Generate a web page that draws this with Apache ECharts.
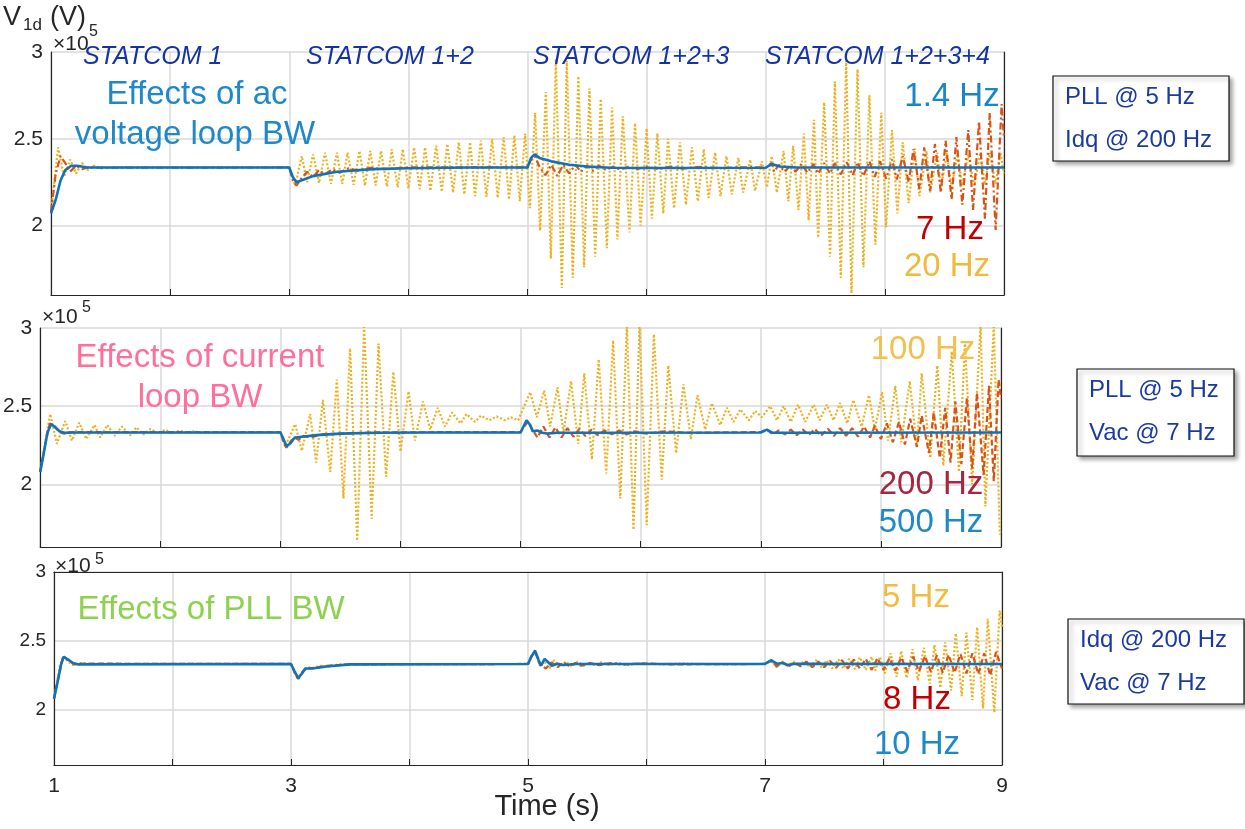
<!DOCTYPE html>
<html>
<head>
<meta charset="utf-8">
<title>V1d - effects of control bandwidths</title>
<script src="https://cdn.jsdelivr.net/npm/echarts@6/dist/echarts.min.js"></script>
<style>
  html, body { margin: 0; padding: 0; background: #fff; }
  #chart { width: 1245px; height: 829px; }
</style>
</head>
<body>
<div id="chart"></div>
<script>
// axes: time in s, V1d in units of 1e5 V
const timeMin = 1;
const timeMax = 9;
const timeLabels = [1, 3, 5, 7, 9];
const vMin = 1.6;
const vMax = 3;
const vLabels = [2, 2.5, 3];
const stageLabels = ["STATCOM 1", "STATCOM 1+2", "STATCOM 1+2+3", "STATCOM 1+2+3+4"];

// panel 1: ac voltage loop bandwidth
const acBlue14Hz = [[1.00,2.07],[1.04,2.15],[1.08,2.26],[1.12,2.32],[1.17,2.345],[1.22,2.345],[1.30,2.335],[3.00,2.335],[3.03,2.28],[3.06,2.25],[3.10,2.26],[3.20,2.285],[3.40,2.31],[3.70,2.325],[4.00,2.33],[4.50,2.335],[5.00,2.335],[5.03,2.39],[5.06,2.41],[5.10,2.39],[5.20,2.37],[5.35,2.35],[5.50,2.34],[5.70,2.333],[6.00,2.332],[7.00,2.333],[7.05,2.355],[7.12,2.34],[7.25,2.335],[9.00,2.335]];
const acRed7Hz = [[1.00,2.08],[1.04,2.30],[1.08,2.40],[1.12,2.36],[1.16,2.31],[1.21,2.345],[1.26,2.325],[1.32,2.338],[1.40,2.333],[3.00,2.335],[3.03,2.26],[3.06,2.23],[3.10,2.27],[3.15,2.31],[3.20,2.28],[3.25,2.32],[3.30,2.295],[3.36,2.325],[3.42,2.305],[3.50,2.33],[3.58,2.315],[3.68,2.333],[3.80,2.325],[4.00,2.335],[5.00,2.335],[5.03,2.38],[5.06,2.40],[5.10,2.34],[5.15,2.29],[5.20,2.35],[5.25,2.285],[5.30,2.35],[5.35,2.30],[5.40,2.35],[5.45,2.31],[5.50,2.345],[5.55,2.315],[5.60,2.345],[5.66,2.32],[5.72,2.34],[5.78,2.322],[5.85,2.34],[5.92,2.325],[6.00,2.34],[6.10,2.325],[6.20,2.34],[6.30,2.328],[6.45,2.338],[6.60,2.33],[6.80,2.336],[7.00,2.335],[7.05,2.36],[7.07,2.31],[7.11,2.35],[7.16,2.31],[7.21,2.35],[7.25,2.31],[7.30,2.355],[7.35,2.305],[7.40,2.355],[7.44,2.30],[7.49,2.36],[7.54,2.30],[7.58,2.36],[7.63,2.295],[7.68,2.365],[7.73,2.29],[7.77,2.365],[7.82,2.285],[7.87,2.37],[7.915,2.28],[7.96,2.37],[8.01,2.27],[8.06,2.38],[8.10,2.265],[8.15,2.40],[8.20,2.25],[8.24,2.44],[8.29,2.21],[8.33,2.45],[8.38,2.20],[8.42,2.47],[8.47,2.19],[8.51,2.49],[8.56,2.15],[8.60,2.51],[8.65,2.12],[8.70,2.55],[8.74,2.09],[8.79,2.60],[8.84,2.04],[8.88,2.65],[8.93,1.975],[8.98,2.70],[9.00,2.50]];
const acYellow20Hz = [[1.00,2.08],[1.06,2.45],[1.11,2.28],[1.16,2.38],[1.21,2.30],[1.26,2.36],[1.31,2.32],[1.36,2.345],[1.42,2.33],[1.50,2.335],[3.00,2.335],[3.05,2.23],[3.105,2.40],[3.15,2.25],[3.20,2.41],[3.25,2.245],[3.30,2.42],[3.35,2.24],[3.40,2.42],[3.445,2.24],[3.49,2.42],[3.54,2.235],[3.59,2.43],[3.635,2.23],[3.68,2.43],[3.725,2.23],[3.77,2.43],[3.82,2.225],[3.86,2.44],[3.91,2.22],[3.953,2.44],[4.00,2.215],[4.048,2.45],[4.095,2.21],[4.14,2.45],[4.185,2.20],[4.233,2.46],[4.28,2.195],[4.327,2.47],[4.375,2.19],[4.423,2.48],[4.47,2.18],[4.518,2.48],[4.56,2.17],[4.608,2.49],[4.655,2.165],[4.703,2.50],[4.75,2.16],[4.80,2.51],[4.845,2.15],[4.89,2.52],[4.935,2.14],[4.98,2.53],[5.02,2.10],[5.064,2.65],[5.106,1.97],[5.154,2.77],[5.196,1.81],[5.238,2.96],[5.288,1.64],[5.33,2.95],[5.38,1.70],[5.427,2.86],[5.475,1.76],[5.52,2.79],[5.568,1.82],[5.615,2.73],[5.666,1.87],[5.71,2.68],[5.755,1.92],[5.80,2.63],[5.856,1.96],[5.903,2.59],[5.95,2.00],[6.00,2.56],[6.044,2.04],[6.09,2.53],[6.14,2.07],[6.18,2.50],[6.23,2.10],[6.28,2.48],[6.33,2.12],[6.38,2.45],[6.43,2.14],[6.48,2.44],[6.52,2.16],[6.575,2.42],[6.62,2.17],[6.67,2.40],[6.715,2.18],[6.77,2.39],[6.81,2.19],[6.87,2.38],[6.91,2.20],[6.967,2.37],[7.01,2.22],[7.05,2.40],[7.093,2.19],[7.15,2.43],[7.19,2.14],[7.23,2.46],[7.275,2.09],[7.32,2.53],[7.36,2.03],[7.405,2.61],[7.44,1.93],[7.49,2.71],[7.54,1.82],[7.58,2.83],[7.63,1.70],[7.675,2.95],[7.72,1.61],[7.77,2.90],[7.82,1.76],[7.87,2.75],[7.92,1.89],[7.97,2.65],[8.01,1.99],[8.06,2.55],[8.105,2.07],[8.15,2.48],[8.20,2.13],[8.25,2.445],[8.29,2.17],[8.35,2.43],[8.38,2.19],[8.44,2.42],[8.47,2.21],[8.52,2.42],[8.56,2.22],[8.61,2.41],[8.65,2.23],[8.70,2.41],[8.75,2.23],[8.80,2.42],[8.84,2.235],[8.88,2.42],[8.93,2.24],[8.97,2.42],[9.00,2.30]];

// panel 2: current loop bandwidth
const curYellow100Hz = [[1.00,2.08],[1.083,2.45],[1.139,2.26],[1.208,2.405],[1.264,2.28],[1.325,2.395],[1.383,2.29],[1.452,2.38],[1.50,2.30],[1.56,2.38],[1.62,2.31],[1.68,2.37],[1.75,2.315],[1.80,2.365],[1.86,2.32],[1.92,2.355],[1.98,2.325],[2.04,2.35],[2.10,2.325],[2.16,2.345],[2.22,2.33],[2.28,2.34],[2.35,2.33],[2.50,2.335],[3.00,2.335],[3.04,2.245],[3.123,2.385],[3.178,2.215],[3.248,2.45],[3.298,2.14],[3.354,2.54],[3.415,2.08],[3.47,2.67],[3.525,1.91],[3.58,2.87],[3.64,1.64],[3.697,3.02],[3.76,1.78],[3.817,2.90],[3.88,2.05],[3.94,2.72],[4.00,2.21],[4.067,2.595],[4.12,2.28],[4.187,2.53],[4.247,2.35],[4.31,2.49],[4.37,2.37],[4.43,2.46],[4.50,2.39],[4.55,2.45],[4.62,2.40],[4.67,2.44],[4.74,2.41],[4.80,2.435],[4.87,2.41],[4.92,2.43],[4.98,2.41],[5.08,2.59],[5.136,2.43],[5.196,2.60],[5.246,2.37],[5.307,2.62],[5.357,2.33],[5.42,2.66],[5.48,2.26],[5.53,2.71],[5.594,2.16],[5.65,2.80],[5.713,2.07],[5.77,2.92],[5.83,1.91],[5.885,3.02],[5.94,1.71],[5.99,3.02],[6.05,1.74],[6.11,2.96],[6.175,2.03],[6.23,2.76],[6.295,2.20],[6.356,2.64],[6.418,2.29],[6.473,2.57],[6.537,2.35],[6.593,2.52],[6.662,2.38],[6.718,2.49],[6.773,2.40],[6.83,2.48],[6.90,2.41],[6.953,2.47],[7.009,2.43],[7.078,2.50],[7.134,2.41],[7.19,2.50],[7.25,2.40],[7.31,2.51],[7.37,2.40],[7.44,2.51],[7.49,2.41],[7.55,2.51],[7.605,2.41],[7.66,2.52],[7.72,2.39],[7.77,2.54],[7.84,2.37],[7.90,2.57],[7.95,2.35],[8.01,2.59],[8.06,2.28],[8.12,2.63],[8.17,2.27],[8.24,2.66],[8.30,2.24],[8.34,2.71],[8.41,2.17],[8.47,2.76],[8.52,2.12],[8.59,2.85],[8.65,2.08],[8.70,2.90],[8.76,2.00],[8.83,3.02],[8.87,1.86],[8.94,3.02],[8.99,1.68],[9.00,1.70]];
const curRed200Hz = [[1.00,2.08],[1.04,2.25],[1.08,2.39],[1.12,2.37],[1.16,2.335],[1.20,2.325],[1.26,2.335],[3.00,2.335],[3.03,2.26],[3.05,2.235],[3.09,2.28],[3.12,2.30],[3.15,2.285],[3.19,2.31],[3.25,2.30],[3.35,2.32],[3.50,2.325],[3.80,2.333],[5.00,2.335],[5.04,2.38],[5.06,2.40],[5.10,2.35],[5.14,2.30],[5.19,2.37],[5.24,2.30],[5.29,2.365],[5.34,2.30],[5.39,2.36],[5.44,2.305],[5.49,2.355],[5.54,2.31],[5.59,2.35],[5.64,2.315],[5.70,2.345],[5.76,2.32],[5.82,2.345],[5.88,2.32],[5.95,2.34],[6.05,2.325],[6.20,2.34],[6.40,2.33],[7.00,2.335],[7.05,2.35],[7.10,2.32],[7.15,2.345],[7.20,2.32],[7.25,2.35],[7.30,2.315],[7.35,2.35],[7.40,2.315],[7.45,2.355],[7.50,2.31],[7.56,2.355],[7.61,2.31],[7.66,2.36],[7.71,2.31],[7.76,2.36],[7.81,2.305],[7.86,2.37],[7.91,2.30],[7.95,2.375],[8.00,2.29],[8.05,2.39],[8.10,2.27],[8.15,2.40],[8.20,2.255],[8.244,2.42],[8.30,2.24],[8.34,2.44],[8.40,2.20],[8.44,2.46],[8.49,2.17],[8.535,2.49],[8.58,2.14],[8.62,2.53],[8.67,2.13],[8.716,2.55],[8.76,2.10],[8.80,2.585],[8.855,2.06],[8.90,2.63],[8.94,2.02],[8.98,2.67],[9.00,2.55]];
const curBlue500Hz = [[1.00,2.08],[1.03,2.20],[1.06,2.33],[1.09,2.385],[1.12,2.37],[1.16,2.34],[1.20,2.33],[1.30,2.332],[3.00,2.332],[3.02,2.30],[3.05,2.245],[3.08,2.26],[3.12,2.30],[3.18,2.305],[3.30,2.315],[3.50,2.325],[3.80,2.33],[4.20,2.332],[5.00,2.332],[5.03,2.38],[5.05,2.41],[5.08,2.38],[5.10,2.34],[5.14,2.345],[5.18,2.33],[5.22,2.325],[5.30,2.33],[7.00,2.332],[7.05,2.35],[7.10,2.33],[9.00,2.332]];

// panel 3: PLL bandwidth
const pllYellow5Hz = [[1.00,2.08],[1.05,2.32],[1.08,2.39],[1.12,2.35],[1.16,2.325],[1.22,2.34],[1.30,2.333],[3.00,2.333],[3.03,2.27],[3.06,2.225],[3.10,2.28],[3.14,2.31],[3.18,2.30],[3.24,2.32],[3.32,2.315],[3.40,2.33],[5.00,2.333],[5.03,2.39],[5.06,2.42],[5.10,2.32],[5.14,2.35],[5.18,2.30],[5.22,2.36],[5.27,2.31],[5.32,2.35],[5.37,2.315],[5.42,2.35],[5.47,2.32],[5.52,2.345],[5.57,2.32],[5.62,2.345],[5.68,2.325],[5.75,2.34],[5.85,2.325],[5.95,2.34],[6.10,2.33],[6.30,2.337],[6.60,2.33],[7.00,2.333],[7.05,2.355],[7.10,2.31],[7.15,2.35],[7.19,2.315],[7.24,2.35],[7.29,2.315],[7.33,2.355],[7.38,2.31],[7.43,2.36],[7.48,2.305],[7.52,2.36],[7.57,2.30],[7.62,2.365],[7.66,2.30],[7.71,2.37],[7.76,2.295],[7.80,2.38],[7.85,2.29],[7.90,2.385],[7.93,2.285],[7.97,2.385],[8.01,2.265],[8.06,2.41],[8.11,2.24],[8.15,2.427],[8.195,2.23],[8.245,2.44],[8.29,2.217],[8.34,2.45],[8.39,2.19],[8.43,2.47],[8.48,2.16],[8.52,2.49],[8.57,2.14],[8.61,2.555],[8.66,2.10],[8.70,2.56],[8.75,2.07],[8.79,2.60],[8.84,2.01],[8.88,2.66],[8.935,1.98],[8.98,2.72],[9.00,2.60]];
const pllRed8Hz = [[1.00,2.08],[1.04,2.25],[1.08,2.39],[1.12,2.36],[1.17,2.33],[1.25,2.335],[3.00,2.333],[3.03,2.27],[3.06,2.225],[3.10,2.28],[3.14,2.30],[3.20,2.305],[3.30,2.32],[3.50,2.33],[5.00,2.333],[5.03,2.39],[5.06,2.42],[5.10,2.33],[5.15,2.30],[5.20,2.345],[5.25,2.31],[5.30,2.345],[5.35,2.315],[5.40,2.34],[5.45,2.32],[5.52,2.34],[5.60,2.325],[5.70,2.34],[5.80,2.328],[5.95,2.337],[6.20,2.33],[7.00,2.333],[7.05,2.355],[7.10,2.315],[7.15,2.345],[7.20,2.315],[7.25,2.345],[7.30,2.315],[7.35,2.35],[7.40,2.31],[7.45,2.35],[7.50,2.31],[7.55,2.355],[7.60,2.305],[7.65,2.36],[7.70,2.30],[7.75,2.365],[7.80,2.30],[7.85,2.37],[7.90,2.29],[7.95,2.375],[8.00,2.29],[8.05,2.375],[8.10,2.285],[8.15,2.38],[8.20,2.28],[8.25,2.385],[8.30,2.28],[8.35,2.39],[8.40,2.275],[8.45,2.395],[8.50,2.27],[8.55,2.40],[8.60,2.27],[8.65,2.405],[8.70,2.265],[8.75,2.41],[8.80,2.26],[8.85,2.41],[8.90,2.25],[8.95,2.42],[9.00,2.30]];
const pllBlue10Hz = [[1.00,2.08],[1.03,2.20],[1.06,2.33],[1.08,2.385],[1.12,2.365],[1.16,2.34],[1.20,2.33],[3.00,2.333],[3.03,2.28],[3.06,2.23],[3.09,2.26],[3.12,2.30],[3.18,2.30],[3.30,2.315],[3.50,2.33],[5.00,2.333],[5.03,2.39],[5.06,2.43],[5.09,2.36],[5.11,2.32],[5.14,2.37],[5.17,2.345],[5.20,2.32],[5.25,2.335],[5.30,2.325],[5.40,2.333],[7.00,2.333],[7.05,2.36],[7.10,2.335],[7.15,2.34],[7.19,2.325],[7.25,2.335],[9.00,2.333]];

const FONT = "Liberation Sans, Arial, Helvetica, sans-serif";
const INK = "#262626";
const GRID_GREY = "#d9d9d9";
const BLUE = "#0F72BB";
const RED = "#D95319";
const YELLOW = "#EDB120";

const panels = [
  { left: 51, top: 52, width: 953, height: 243, tickSize: 21 },
  { left: 40, top: 328, width: 961, height: 219, tickSize: 21 },
  { left: 54, top: 572, width: 948, height: 193, tickSize: 19 },
];

// only every fifth split line (2, 2.5, 3) is visible
const ySplitColors = ["rgba(0,0,0,0)", "rgba(0,0,0,0)", "rgba(0,0,0,0)", "rgba(0,0,0,0)", GRID_GREY];

const xAxes = [];
const yAxes = [];
panels.forEach((p, i) => {
  xAxes.push({
    type: "value", gridIndex: i, min: timeMin, max: timeMax, interval: 1,
    axisLine: { show: true, onZero: false, lineStyle: { color: INK, width: 1.2 } },
    axisTick: { show: true, inside: true, length: 6, lineStyle: { color: INK } },
    axisLabel: {
      show: i === 2, margin: 11, fontSize: 21, color: INK, fontFamily: FONT,
      formatter: (v) => (timeLabels.includes(v) ? String(v) : ""),
    },
    splitLine: { show: true, lineStyle: { color: GRID_GREY, width: 1.5 } },
  });
  yAxes.push({
    type: "value", gridIndex: i, min: vMin, max: vMax, interval: 0.1,
    axisLine: { show: true, onZero: false, lineStyle: { color: INK, width: 1.2 } },
    axisTick: { show: false },
    axisLabel: {
      margin: 8, fontSize: p.tickSize, color: INK, fontFamily: FONT,
      formatter: (v) => {
        const hit = vLabels.find((l) => Math.abs(l - v) < 1e-6);
        return hit === undefined ? "" : String(hit);
      },
    },
    splitLine: { show: true, lineStyle: { color: ySplitColors, width: 1.5 } },
  });
  yAxes.push({
    type: "value", gridIndex: i, position: "right", min: vMin, max: vMax, interval: 0.1,
    axisLine: { show: true, onZero: false, lineStyle: { color: INK, width: 1.2 } },
    axisTick: { show: false }, axisLabel: { show: false }, splitLine: { show: false },
  });
});
// dark top edge on the lowest panel
xAxes.push({
  type: "value", gridIndex: 2, position: "top", min: timeMin, max: timeMax,
  axisLine: { show: true, onZero: false, lineStyle: { color: INK, width: 1.2 } },
  axisTick: { show: false }, axisLabel: { show: false }, splitLine: { show: false },
});

function line(name, data, panel, color, dash, width) {
  return {
    name, type: "line", data, xAxisIndex: panel, yAxisIndex: panel * 2,
    showSymbol: false, symbol: "none", clip: true, animation: false,
    lineStyle: { color, width, type: dash },
  };
}

const series = [
  line("20 Hz", acYellow20Hz, 0, YELLOW, [2, 2], 2.2),
  line("7 Hz", acRed7Hz, 0, RED, [7, 3, 2, 3], 2.2),
  line("1.4 Hz", acBlue14Hz, 0, BLUE, "solid", 2.6),
  line("100 Hz", curYellow100Hz, 1, YELLOW, [2, 2], 2.2),
  line("200 Hz", curRed200Hz, 1, RED, [6, 3], 2.2),
  line("500 Hz", curBlue500Hz, 1, BLUE, "solid", 2.6),
  line("5 Hz", pllYellow5Hz, 2, YELLOW, [2, 2], 2.2),
  line("8 Hz", pllRed8Hz, 2, RED, [6, 3], 2.2),
  line("10 Hz", pllBlue10Hz, 2, BLUE, "solid", 2.6),
];

function txt(text, x, y, size, color, extra) {
  return Object.assign({
    type: "text", x, y, z: 100,
    style: {
      text, fill: color, font: size + "px " + FONT,
      textAlign: "center", textVerticalAlign: "middle",
    },
  }, extra || {});
}
function leftTxt(text, x, y, size, color, style) {
  const t = txt(text, x, y, size, color);
  t.style.textAlign = "left";
  if (style) t.style.font = style + " " + t.style.font;
  return t;
}
function box(x, y, w, h, lines) {
  return {
    type: "group", z: 100,
    children: [
      {
        type: "rect", z: 100,
        shape: { x, y, width: w, height: h },
        style: {
          fill: "#fff", stroke: "#111", lineWidth: 1.2,
          shadowBlur: 4, shadowOffsetX: 3, shadowOffsetY: 3, shadowColor: "rgba(0,0,0,0.35)",
        },
      },
      leftTxt(lines[0], x + 12, y + 21, 24, "#1A3AA0"),
      leftTxt(lines[1], x + 12, y + 64, 24, "#1A3AA0"),
    ],
  };
}

const STAGE_BLUE = "#1434A4";
const graphic = [
  // y axis title and exponents
  leftTxt("V", 3, 18, 27, INK),
  leftTxt("1d", 23, 25, 17, INK),
  leftTxt("(V)", 50, 18, 27, INK),
  leftTxt("\u00d710", 53, 44, 21, INK),
  leftTxt("5", 89, 32, 16, INK),
  leftTxt("\u00d710", 42, 317, 21, INK),
  leftTxt("5", 82, 308, 16, INK),
  leftTxt("\u00d710", 55, 566, 21, INK),
  leftTxt("5", 95, 560, 16, INK),
  txt("Time (s)", 547, 807, 29, INK),

  // stage labels
  leftTxt(stageLabels[0], 83, 57, 25, STAGE_BLUE, "italic"),
  leftTxt(stageLabels[1], 306, 57, 25, STAGE_BLUE, "italic"),
  leftTxt(stageLabels[2], 533, 57, 25, STAGE_BLUE, "italic"),
  leftTxt(stageLabels[3], 765, 57, 25, STAGE_BLUE, "italic"),

  // panel annotations
  txt("Effects of ac", 197, 95, 33, "#1E88C8"),
  txt("voltage loop BW", 195, 135, 33, "#1E88C8"),
  txt("1.4 Hz", 952, 97, 33, "#1A86C8"),
  txt("7 Hz", 950, 230, 33, "#C00000"),
  txt("20 Hz", 947, 267, 33, "#F0B93A"),

  txt("Effects of current", 200, 358, 33, "#FF6F9A"),
  txt("loop BW", 200, 398, 33, "#FF6F9A"),
  txt("100 Hz", 923, 350, 33, "#F2C04F"),
  txt("200 Hz", 931, 485, 33, "#A8243F"),
  txt("500 Hz", 931, 523, 33, "#1E88C8"),

  txt("Effects of PLL BW", 211, 610, 33, "#8ED14E"),
  txt("5 Hz", 916, 598, 33, "#F0BD40"),
  txt("8 Hz", 917, 700, 33, "#C00000"),
  txt("10 Hz", 917, 745, 33, "#1E88C8"),

  // fixed-loop boxes
  box(1053, 76, 176, 85, ["PLL @ 5 Hz", "Idq @ 200 Hz"]),
  box(1077, 369, 157, 87, ["PLL @ 5 Hz", "Vac @ 7 Hz"]),
  box(1068, 619, 176, 85, ["Idq @ 200 Hz", "Vac @ 7 Hz"]),
];

const chart = echarts.init(document.getElementById("chart"), null, { renderer: "canvas" });
chart.setOption({
  animation: false,
  backgroundColor: "#fff",
  textStyle: { fontFamily: FONT },
  grid: panels.map((p) => ({ left: p.left, top: p.top, width: p.width, height: p.height, containLabel: false })),
  xAxis: xAxes,
  yAxis: yAxes,
  series,
  graphic,
});
</script>
</body>
</html>
